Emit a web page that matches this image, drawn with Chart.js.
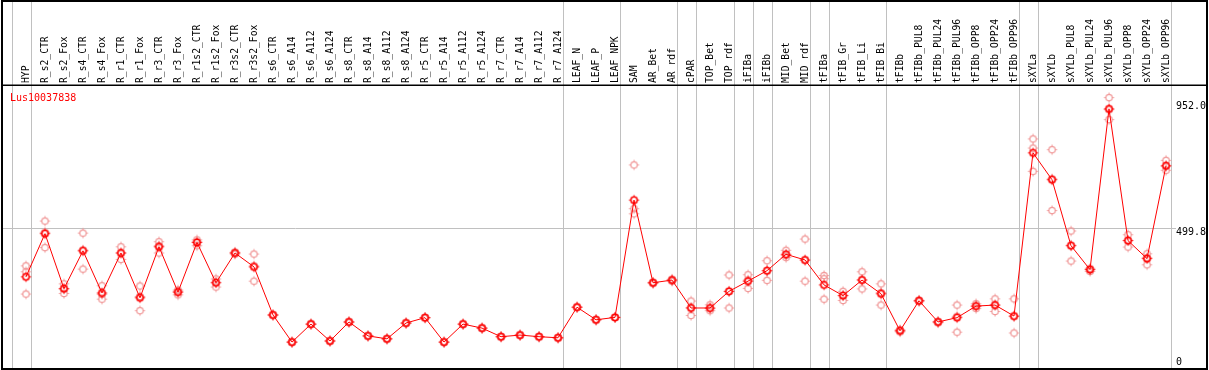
<!DOCTYPE html>
<html><head><meta charset="utf-8">
<script src="https://cdn.jsdelivr.net/npm/chart.js@4/dist/chart.umd.min.js"></script>
<style>html,body{margin:0;padding:0;background:#fff;overflow:hidden}canvas{display:block}</style>
</head><body>
<canvas id="c" width="1209" height="370"></canvas>
<script>
const title = 'Lus10037838';
const categories = ['HYP','R_s2_CTR','R_s2_Fox','R_s4_CTR','R_s4_Fox','R_r1_CTR','R_r1_Fox','R_r3_CTR','R_r3_Fox','R_r1s2_CTR','R_r1s2_Fox','R_r3s2_CTR','R_r3s2_Fox','R_s6_CTR','R_s6_A14','R_s6_A112','R_s6_A124','R_s8_CTR','R_s8_A14','R_s8_A112','R_s8_A124','R_r5_CTR','R_r5_A14','R_r5_A112','R_r5_A124','R_r7_CTR','R_r7_A14','R_r7_A112','R_r7_A124','LEAF_N','LEAF_P','LEAF_NPK','SAM','AR_Bet','AR_rdf','cPAR','TOP_Bet','TOP_rdf','iFIBa','iFIBb','MID_Bet','MID_rdf','tFIBa','tFIB_Gr','tFIB_Li','tFIB_Bi','tFIBb','tFIBb_PUL8','tFIBb_PUL24','tFIBb_PUL96','tFIBb_OPP8','tFIBb_OPP24','tFIBb_OPP96','sXYLa','sXYLb','sXYLb_PUL8','sXYLb_PUL24','sXYLb_PUL96','sXYLb_OPP8','sXYLb_OPP24','sXYLb_OPP96'];
const meanValues = [318,479,274,415,258,407,240,430,261,446,296,407,355,176,75,142,79,150,98,87,146,166,75,142,127,95,101,95,91,205,158,167,604,296,306,202,202,264,302,341,402,381,288,248,306,255,117,229,150,166,209,213,172,780,680,434,345,944,453,386,732];
const rep1 = [359,526,292,481,285,430,284,449,269,456,310,410,403,176,75,142,79,150,98,87,146,166,75,142,127,95,101,95,91,205,158,167,735,298,309,228,214,325,326,378,417,459,323,264,337,292,121,231,152,213,200,236,236,832,792,489,350,986,475,404,752];
const rep2 = [337,427,256,347,235,383,192,407,251,434,280,403,302,176,75,142,79,150,98,87,146,166,75,142,127,95,101,95,91,205,158,167,572,293,302,174,192,202,275,305,390,302,311,230,273,213,113,226,147,112,209,189,109,798,565,377,338,904,429,363,715];
const rep3 = [254,484,273,418,253,407,245,434,264,449,298,407,359,176,75,142,79,150,98,87,146,166,75,142,127,95,101,95,91,205,158,167,553,297,306,203,200,264,306,340,398,380,235,249,308,259,117,229,150,171,218,213,170,711,683,436,345,941,454,389,730];
const yTickValues = [0, 499.8, 952.0];
const separatorsAfter = [-1,0,28,31,34,35,37,38,39,41,42,45,52,53,60];

const X_MIN = -1.263, X_MAX = 60.526;
const LABEL_SIZE = 9.7;
const LABEL_SHIFT = (LABEL_SIZE * 1.2) / 19; // compensates Chart.js rotated-label offset (in category units)

function marker(color, lw, r){
  const c = document.createElement('canvas'); c.width = 13; c.height = 13;
  const g = c.getContext('2d'); g.strokeStyle = color; g.lineWidth = lw;
  g.beginPath(); g.arc(6.5,6.5,r,0,Math.PI*2); g.stroke();
  g.lineWidth = 1; g.beginPath();
  g.moveTo(6.5,1.5); g.lineTo(6.5,3); g.moveTo(6.5,10); g.lineTo(6.5,11.5);
  g.moveTo(1.5,6.5); g.lineTo(3,6.5); g.moveTo(10,6.5); g.lineTo(11.5,6.5);
  g.stroke();
  return c;
}
const mainMarker = marker('#ff0000', 1.5, 3.2);
const repMarker = marker('rgb(240,150,150)', 1.2, 3.2);

const pts = arr => arr.map((v,i)=>({x:i,y:v}));
const repSet = arr => ({data: pts(arr), showLine:false, pointStyle: repMarker, pointRadius:4, borderColor:'rgb(240,150,150)', backgroundColor:'rgb(240,150,150)'});

const noPad = s => { s.paddingLeft = 0; s.paddingRight = 0; s.paddingTop = 0; s.paddingBottom = 0; };

const framePlugin = {
  id:'frame',
  beforeDatasetsDraw(chart){
    const ctx = chart.ctx, xs = chart.scales.x;
    ctx.save(); ctx.strokeStyle = '#c0c0c0'; ctx.lineWidth = 1;
    separatorsAfter.forEach(i => {
      const px = Math.round(xs.getPixelForValue(i + 0.24)) + 0.5;
      ctx.beginPath(); ctx.moveTo(px, 2); ctx.lineTo(px, 368); ctx.stroke();
    });
    ctx.restore();
  },
  afterDraw(chart){
    const ctx = chart.ctx;
    ctx.save();
    ctx.strokeStyle = '#000'; ctx.lineWidth = 2;
    ctx.strokeRect(2, 1, 1205, 368);
    ctx.lineWidth = 1.5;
    ctx.beginPath(); ctx.moveTo(1, 85.3); ctx.lineTo(1208, 85.3); ctx.stroke();
    ctx.fillStyle = '#ff0000'; ctx.font = '10px "DejaVu Sans Mono"'; ctx.textBaseline = 'alphabetic';
    ctx.fillText(title, 10, 101);
    ctx.restore();
  }
};

new Chart(document.getElementById('c'), {
  type:'line',
  data:{ datasets:[
    {data: pts(meanValues), borderColor:'#ff0000', borderWidth:1, pointStyle: mainMarker, pointRadius:4, tension:0, fill:false},
    repSet(rep1), repSet(rep2), repSet(rep3)
  ]},
  options:{
    responsive:false, animation:false, devicePixelRatio:1,
    layout:{autoPadding:false, padding:{left:2,right:2,top:1,bottom:1}},
    plugins:{legend:{display:false}, tooltip:{enabled:false}, title:{display:false}},
    scales:{
      x:{type:'linear', display:false, min:X_MIN, max:X_MAX,
        afterFit: noPad},
      xl:{type:'linear', position:'top', min:X_MIN - LABEL_SHIFT, max:X_MAX - LABEL_SHIFT,
        afterBuildTicks: s => { s.ticks = categories.map((_,i)=>({value:i})); },
        afterFit: s => { noPad(s); s.height = 85; },
        ticks:{autoSkip:false, maxRotation:90, minRotation:90, padding:3, color:'#000',
          font:{family:'DejaVu Sans Mono', size:LABEL_SIZE}, callback: v => categories[v]},
        grid:{display:false, drawTicks:false}, border:{display:false}},
      y:{position:'right', min:-25.34, max:1029.1,
        afterBuildTicks: s => { s.ticks = yTickValues.map(v=>({value:v})); },
        afterFit: s => { noPad(s); s.width = 31; },
        ticks:{padding:0, color:'#000', font:{family:'DejaVu Sans Mono', size:10, lineHeight:0.8},
          callback: v => v === 0 ? '0' : (v === 499.8 ? ['', v.toFixed(1)] : v.toFixed(1))},
        grid:{drawTicks:false, lineWidth:1, color: c => (c.tick && c.tick.value === 499.8) ? '#c0c0c0' : 'rgba(0,0,0,0)'},
        border:{display:false}}
    }
  },
  plugins:[framePlugin]
});
</script>
</body></html>
